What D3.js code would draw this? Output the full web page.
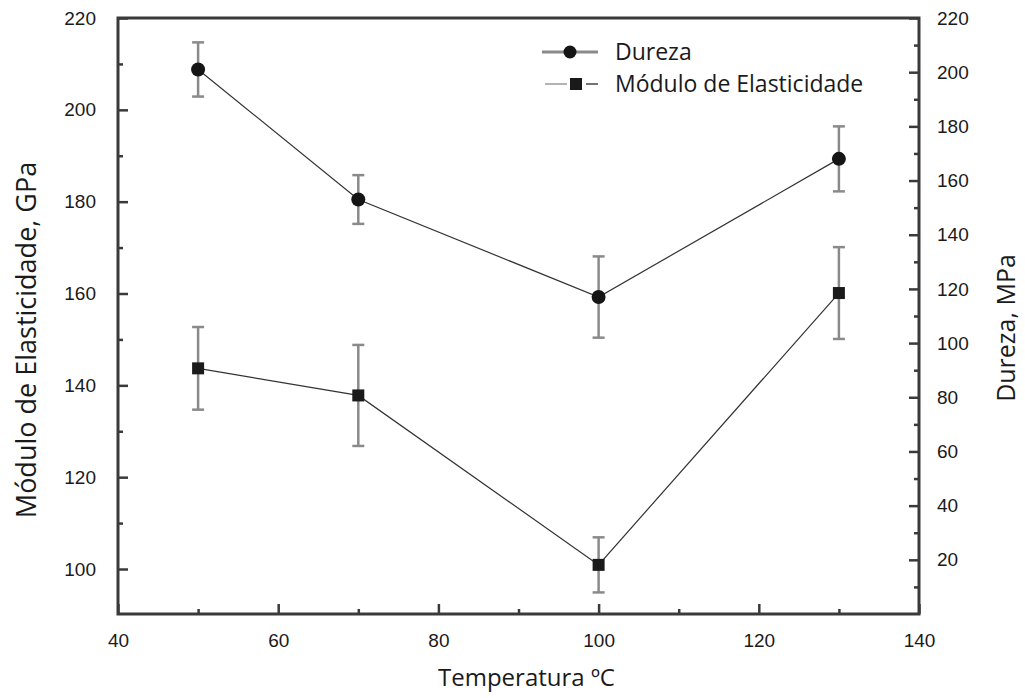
<!DOCTYPE html>
<html>
<head>
<meta charset="utf-8">
<script src="https://cdn.jsdelivr.net/npm/d3@7"></script>
<style>
	body { margin: 0; background: #fff; }
	svg { font-family: "Open Sans", sans-serif; }
</style>
</head>
<body>
<svg width="1025" height="698"></svg>
<script>
// Data
const temperatures = [50, 70, 100, 130];
const dureza = [201, 153, 117, 168]; // MPa, right axis
const durezaErr = [10, 9, 15, 12];
const modulo = [143.7, 137.8, 100.9, 160.1]; // GPa, left axis
const moduloErr = [9, 11, 6, 10];

const xTicks = [40, 60, 80, 100, 120, 140];
const leftTicks = [100, 120, 140, 160, 180, 200, 220];
const rightTicks = [20, 40, 60, 80, 100, 120, 140, 160, 180, 200, 220];

const margin = { top: 18, right: 106, bottom: 84, left: 118 },
	width = 1025 - margin.left - margin.right,
	height = 698 - margin.top - margin.bottom;

const svg = d3
	.select("svg")
	.append("g")
	.attr("transform", `translate(${margin.left},${margin.top})`);

const x = d3.scaleLinear().domain([40, 140]).range([0, width]);
const yLeft = d3.scaleLinear().domain([90.2, 220]).range([height, 0]);
const yRight = d3.scaleLinear().domain([0, 220]).range([height, 0]);

const axisColor = "#3a3a3a";

// Axes (ticks pointing inward)
function styleAxis(g) {
	g.select(".domain").remove();
	g.selectAll(".tick line").attr("stroke", axisColor).attr("stroke-width", 2.5);
	g.selectAll(".tick text").attr("fill", "#1a1a1a").style("font-size", "19px");
}

svg
	.append("g")
	.attr("transform", `translate(0,${height})`)
	.call(d3.axisBottom(x).tickValues(xTicks).tickSizeInner(-10).tickSizeOuter(0).tickPadding(20))
	.call(styleAxis);
svg
	.append("g")
	.attr("transform", `translate(0,${height})`)
	.call(d3.axisBottom(x).tickValues(d3.range(50, 140, 20)).tickSize(-5).tickFormat(""))
	.call(styleAxis);

svg
	.append("g")
	.call(d3.axisLeft(yLeft).tickValues(leftTicks).tickSizeInner(-10).tickSizeOuter(0).tickPadding(22))
	.call(styleAxis);
svg
	.append("g")
	.call(d3.axisLeft(yLeft).tickValues(d3.range(110, 220, 20)).tickSize(-5).tickFormat(""))
	.call(styleAxis);

svg
	.append("g")
	.attr("transform", `translate(${width},0)`)
	.call(d3.axisRight(yRight).tickValues(rightTicks).tickSizeInner(-10).tickSizeOuter(0).tickPadding(18))
	.call(styleAxis);
svg
	.append("g")
	.attr("transform", `translate(${width},0)`)
	.call(d3.axisRight(yRight).tickValues(d3.range(10, 220, 20)).tickSize(-5).tickFormat(""))
	.call(styleAxis);

// Frame
svg
	.append("rect")
	.attr("width", width)
	.attr("height", height)
	.attr("fill", "none")
	.attr("stroke", axisColor)
	.attr("stroke-width", 3);

// Axis titles
svg
	.append("text")
	.attr("x", width / 2 + 8)
	.attr("y", height + 72)
	.attr("text-anchor", "middle")
	.style("font-size", "24px")
	.attr("fill", "#1a1a1a")
	.text("Temperatura ºC");

svg
	.append("text")
	.attr("transform", `translate(${-82},${340 - margin.top}) rotate(-90)`)
	.attr("text-anchor", "middle")
	.style("font-size", "27px")
	.attr("fill", "#1a1a1a")
	.text("Módulo de Elasticidade, GPa");

svg
	.append("text")
	.attr("transform", `translate(${width + 96},${328 - margin.top}) rotate(-90)`)
	.attr("text-anchor", "middle")
	.style("font-size", "25px")
	.attr("fill", "#1a1a1a")
	.text("Dureza, MPa");

// Series
const durezaData = temperatures.map((t, i) => ({ t, v: dureza[i], e: durezaErr[i] }));
const moduloData = temperatures.map((t, i) => ({ t, v: modulo[i], e: moduloErr[i] }));

function drawSeries(data, y, shape) {
	const g = svg.append("g");
	// error bars
	const eb = g.selectAll(".err").data(data).join("g").attr("stroke", "#8a8a8a").attr("stroke-width", 2.5);
	eb.append("line")
		.attr("x1", (d) => x(d.t)).attr("x2", (d) => x(d.t))
		.attr("y1", (d) => y(d.v + d.e)).attr("y2", (d) => y(d.v - d.e));
	eb.append("line")
		.attr("x1", (d) => x(d.t) - 6).attr("x2", (d) => x(d.t) + 6)
		.attr("y1", (d) => y(d.v + d.e)).attr("y2", (d) => y(d.v + d.e));
	eb.append("line")
		.attr("x1", (d) => x(d.t) - 6).attr("x2", (d) => x(d.t) + 6)
		.attr("y1", (d) => y(d.v - d.e)).attr("y2", (d) => y(d.v - d.e));

	// line
	const line = d3.line().x((d) => x(d.t)).y((d) => y(d.v));
	g.append("path")
		.datum(data)
		.attr("fill", "none")
		.attr("stroke", "#333")
		.attr("stroke-width", 1.2)
		.attr("d", line);

	// markers
	if (shape === "circle") {
		g.selectAll(".pt").data(data).join("circle")
			.attr("cx", (d) => x(d.t)).attr("cy", (d) => y(d.v))
			.attr("r", 7).attr("fill", "#151515");
	} else {
		g.selectAll(".pt").data(data).join("rect")
			.attr("x", (d) => x(d.t) - 6).attr("y", (d) => y(d.v) - 6)
			.attr("width", 12).attr("height", 12).attr("fill", "#1a1a1a");
	}
}

drawSeries(moduloData, yLeft, "square");
drawSeries(durezaData, yRight, "circle");

// Legend
const legend = svg.append("g").attr("transform", `translate(${542 - margin.left},${-margin.top})`);
// Dureza
legend.append("line").attr("x1", 0).attr("x2", 56).attr("y1", 52).attr("y2", 52)
	.attr("stroke", "#8a8a8a").attr("stroke-width", 3);
legend.append("circle").attr("cx", 28).attr("cy", 52).attr("r", 6.5).attr("fill", "#151515");
legend.append("text").attr("x", 73).attr("y", 60).style("font-size", "23px").attr("fill", "#1a1a1a").text("Dureza");
// Modulo
legend.append("line").attr("x1", 3).attr("x2", 25).attr("y1", 84).attr("y2", 84)
	.attr("stroke", "#9a9a9a").attr("stroke-width", 1.5);
legend.append("line").attr("x1", 44).attr("x2", 56).attr("y1", 84).attr("y2", 84)
	.attr("stroke", "#444").attr("stroke-width", 1.5);
legend.append("rect").attr("x", 28).attr("y", 78).attr("width", 12).attr("height", 12).attr("fill", "#1a1a1a");
legend.append("text").attr("x", 73).attr("y", 92).style("font-size", "23px").attr("fill", "#1a1a1a").text("Módulo de Elasticidade");
</script>
</body>
</html>
